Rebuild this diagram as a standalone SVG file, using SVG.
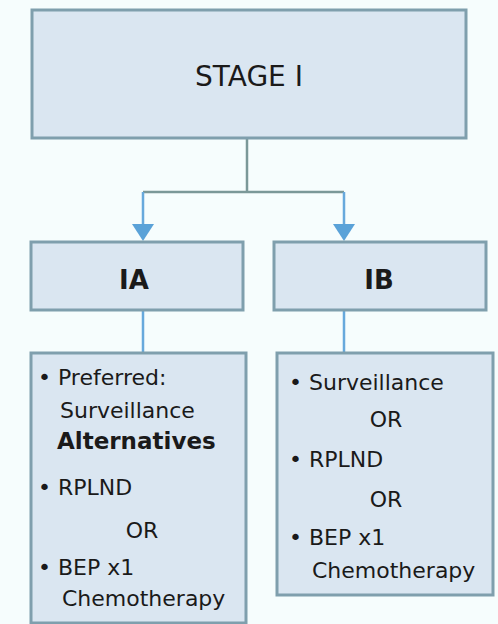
<svg xmlns="http://www.w3.org/2000/svg" width="498" height="624" viewBox="0 0 498 624">
  <style>
    .box { fill: #dae6f1; stroke: #7f9fad; stroke-width: 3; }
    .link { fill: none; stroke: #7b9898; stroke-width: 2.5; }
    .down { fill: none; stroke: #67a9dc; stroke-width: 2.5; }
    .t { font-family: "DejaVu Sans", Verdana, sans-serif; fill: #1a1a1a; }
    .title { font-size: 28px; text-anchor: middle; }
    .sub { font-size: 26px; font-weight: bold; text-anchor: middle; }
    .item { font-size: 22px; }
    .bold { font-size: 23px; font-weight: bold; }
    .mid { text-anchor: middle; }
  </style>
  <defs>
    <marker id="arrow" markerWidth="10" markerHeight="8" refX="9" refY="4" orient="auto" markerUnits="userSpaceOnUse">
      <path d="M0,0 L10,4 L0,8 Z" fill="#5aa2d8"/>
    </marker>
  </defs>

  <rect width="498" height="624" fill="#f6fdfd"/>

  <!-- connectors -->
  <g id="connectors">
    <path class="link" d="M247,138 V192 M143,192 H344"/>
    <path class="down" d="M143,192 V226 M344,192 V226"/>
    <path d="M132,224 L154,224 L143,241 Z" fill="#5aa2d8"/>
    <path d="M333,224 L355,224 L344,241 Z" fill="#5aa2d8"/>
    <path class="down" d="M143,310 V353 M344,310 V353"/>
  </g>

  <!-- stage box -->
  <g id="stage">
    <rect class="box" x="32" y="10" width="434" height="128"/>
    <text class="t title" x="249" y="86">STAGE I</text>
  </g>

  <!-- sub-stage boxes -->
  <g id="ia">
    <rect class="box" x="31" y="242" width="212" height="68"/>
    <text class="t sub" x="134" y="289">IA</text>
  </g>
  <g id="ib">
    <rect class="box" x="274" y="242" width="212" height="68"/>
    <text class="t sub" x="379" y="289">IB</text>
  </g>

  <!-- management options -->
  <g id="ia-options">
    <rect class="box" x="31" y="353" width="215" height="270"/>
    <text class="t item" x="38" y="385">• Preferred:</text>
    <text class="t item" x="60" y="418">Surveillance</text>
    <text class="t bold" x="57" y="449">Alternatives</text>
    <text class="t item" x="38" y="495">• RPLND</text>
    <text class="t item mid" x="142" y="538">OR</text>
    <text class="t item" x="38" y="575">• BEP x1</text>
    <text class="t item" x="62" y="606">Chemotherapy</text>
  </g>
  <g id="ib-options">
    <rect class="box" x="277" y="353" width="216" height="242"/>
    <text class="t item" x="289" y="390">• Surveillance</text>
    <text class="t item mid" x="386" y="427">OR</text>
    <text class="t item" x="289" y="467">• RPLND</text>
    <text class="t item mid" x="386" y="507">OR</text>
    <text class="t item" x="289" y="545">• BEP x1</text>
    <text class="t item" x="312" y="578">Chemotherapy</text>
  </g>
</svg>
